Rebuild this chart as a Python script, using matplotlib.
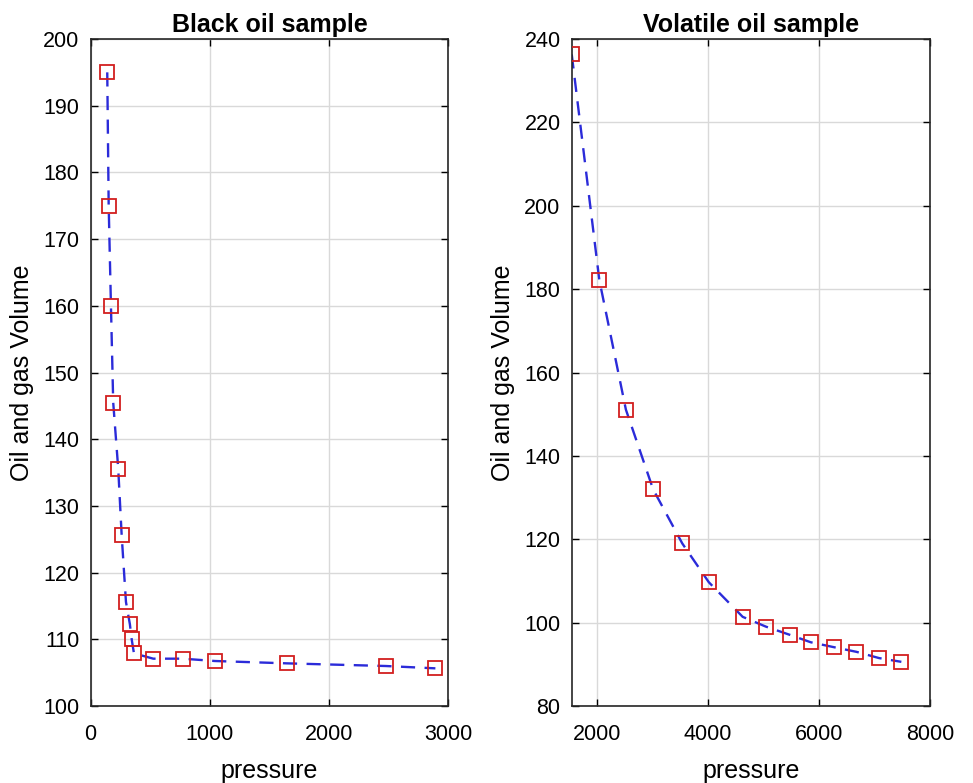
import matplotlib
matplotlib.use('Agg')
import matplotlib.pyplot as plt

# black oil sample: pressure vs oil and gas volume
black_p = [139, 151, 170, 189, 231, 260, 296, 329, 344, 363, 525, 771, 1042, 1643, 2475, 2892]
black_v = [195, 175, 160, 145.5, 135.6, 125.6, 115.6, 112.25, 110, 107.9, 107.1, 107.1, 106.75, 106.4, 106, 105.65]

# volatile oil sample
vol_p = [1544, 2041, 2520, 3010, 3536, 4014, 4624, 5042, 5480, 5850, 6274, 6675, 7083, 7484]
vol_v = [236.3, 182.2, 151.1, 132.0, 119.0, 109.7, 101.4, 99.05, 97.05, 95.3, 94.1, 93.0, 91.5, 90.6]

plt.rcParams['font.family'] = ['Liberation Sans', 'DejaVu Sans']
plt.rcParams['font.size'] = 15.5


def style(ax):
    ax.grid(True, color='#d9d9d9', linewidth=1)
    ax.set_axisbelow(True)
    ax.tick_params(direction='in', length=5, width=1, top=True, right=True)
    ax.tick_params(axis='x', pad=13)
    ax.tick_params(axis='y', pad=8)
    for s in ax.spines.values():
        s.set_linewidth(1.2)
        s.set_color('#262626')
    ax.set_xlabel('pressure', fontsize=18, labelpad=10)
    ax.set_ylabel('Oil and gas Volume', fontsize=18, labelpad=7)


def draw(ax, p, v):
    ax.plot(p, v, color='#2b2bd9', linestyle=(0, (6, 4)), linewidth=1.7, zorder=2)
    ax.plot(p, v, linestyle='none', marker='s', markersize=10.5, markerfacecolor='none',
            markeredgecolor='#d21f1f', markeredgewidth=1.3, zorder=3)


fig = plt.figure(figsize=(9.73, 7.83), dpi=100)
ax1 = fig.add_axes([0.0932, 0.0983, 0.3675, 0.8519])
ax2 = fig.add_axes([0.5876, 0.0983, 0.3682, 0.8519])

draw(ax1, black_p, black_v)
ax1.set_xlim(0, 3000)
ax1.set_ylim(100, 200)
ax1.set_xticks([0, 1000, 2000, 3000])
ax1.set_yticks(range(100, 201, 10))
ax1.set_title('Black oil sample', fontweight='bold', fontsize=18, pad=5)
style(ax1)

draw(ax2, vol_p, vol_v)
ax2.set_xlim(vol_p[0], 8000)
ax2.set_ylim(80, 240)
ax2.set_xticks([2000, 4000, 6000, 8000])
ax2.set_yticks(range(80, 241, 20))
ax2.set_title('Volatile oil sample', fontweight='bold', fontsize=18, pad=5)
style(ax2)

fig.savefig('out.png', dpi=100)
